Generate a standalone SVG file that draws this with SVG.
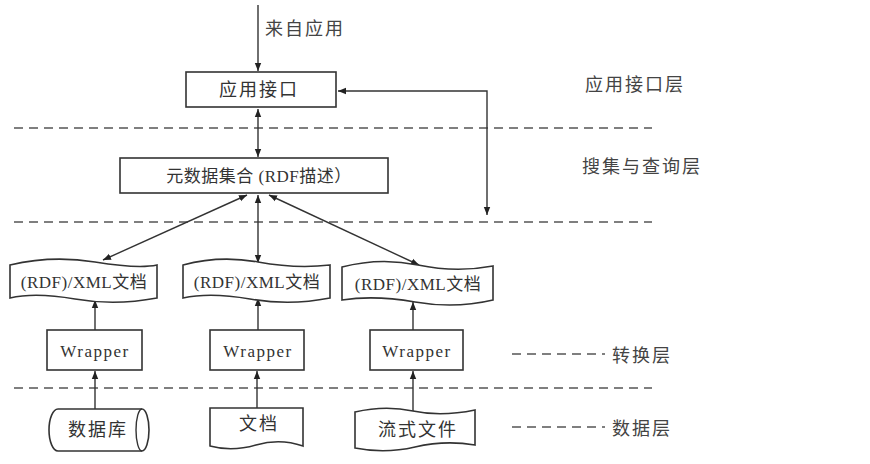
<svg xmlns="http://www.w3.org/2000/svg" width="870" height="464" viewBox="0 0 870 464">
<defs>
<marker id="ah" viewBox="0 0 10 10" refX="10" refY="5" markerWidth="8" markerHeight="8" markerUnits="userSpaceOnUse" orient="auto-start-reverse">
<path d="M0,1 L10,5 L0,9 Z" fill="#222"/>
</marker>
</defs>
<style>
.box{fill:#fff;stroke:#333;stroke-width:1.6}
.ln{stroke:#333;stroke-width:1.4;fill:none}
.dash{stroke:#555;stroke-width:1.3;stroke-dasharray:9,6;fill:none}
.t{font-family:"Liberation Serif","Noto Sans CJK SC",serif;font-size:17px;fill:#333;text-anchor:middle;dominant-baseline:central}
.c{font-size:18px;letter-spacing:2px}
.x{letter-spacing:0.5px}
.wr{font-size:17px;letter-spacing:1.5px}
.l{font-family:"Noto Sans CJK SC",sans-serif;font-size:18px;letter-spacing:2px;fill:#444;dominant-baseline:central}
</style>
<rect width="870" height="464" fill="#fff"/>
<g id="layers">
<line class="dash" x1="14" y1="128" x2="652" y2="128"/>
<line class="dash" x1="14" y1="222" x2="652" y2="222"/>
<line class="dash" x1="14" y1="388" x2="652" y2="388"/>
<line class="dash" x1="512" y1="354" x2="605" y2="354"/>
<line class="dash" x1="512" y1="427" x2="605" y2="427"/>
<text class="l" x="585" y="83">应用接口层</text>
<text class="l" x="582" y="165">搜集与查询层</text>
<text class="l" x="612" y="354">转换层</text>
<text class="l" x="612" y="427">数据层</text>
</g>
<g id="connectors">
<line class="ln" x1="258" y1="5" x2="258" y2="71" marker-end="url(#ah)"/>
<text class="l" x="265" y="27">来自应用</text>
<polyline class="ln" points="487,215 487,91 338,91" marker-start="url(#ah)" marker-end="url(#ah)"/>
<line class="ln" x1="258" y1="109" x2="258" y2="157" marker-start="url(#ah)" marker-end="url(#ah)"/>
<line class="ln" x1="247" y1="195" x2="103" y2="260" marker-start="url(#ah)" marker-end="url(#ah)"/>
<line class="ln" x1="258" y1="195" x2="258" y2="263" marker-start="url(#ah)" marker-end="url(#ah)"/>
<line class="ln" x1="269" y1="195" x2="419" y2="265" marker-start="url(#ah)" marker-end="url(#ah)"/>
<line class="ln" x1="95" y1="330" x2="95" y2="300" marker-end="url(#ah)"/>
<line class="ln" x1="258" y1="330" x2="258" y2="298" marker-end="url(#ah)"/>
<line class="ln" x1="413" y1="330" x2="413" y2="302" marker-end="url(#ah)"/>
<line class="ln" x1="95" y1="409" x2="95" y2="371" marker-end="url(#ah)"/>
<line class="ln" x1="257" y1="409" x2="257" y2="371" marker-end="url(#ah)"/>
<line class="ln" x1="413" y1="411" x2="413" y2="371" marker-end="url(#ah)"/>
</g>
<g id="app">
<rect class="box" x="186" y="72" width="150" height="35"/>
<text class="t c" x="259" y="90">应用接口</text>
</g>
<g id="meta">
<rect class="box" x="120" y="158" width="268" height="35"/>
<text class="t x" x="259" y="176">元数据集合 (RDF描述）</text>
</g>
<g id="xml1">
<path class="box" d="M10,265 Q52,255 95,262 T157,265 L157,298 Q115,306 75,299 T10,298 Z"/>
<text class="t x" x="84" y="282">(RDF)/XML文档</text>
</g>
<g id="xml2">
<path class="box" d="M183,265 Q220,255 258,262 T330,265 L330,298 Q290,306 250,299 T183,298 Z"/>
<text class="t x" x="257" y="282">(RDF)/XML文档</text>
</g>
<g id="xml3">
<path class="box" d="M342,267 Q380,257 418,265 T493,266 L493,300 Q455,309 415,302 T342,300 Z"/>
<text class="t x" x="418" y="284">(RDF)/XML文档</text>
</g>
<g id="w1">
<rect class="box" x="47" y="330" width="95" height="40"/>
<text class="t wr" x="95" y="351">Wrapper</text>
</g>
<g id="w2">
<rect class="box" x="210" y="330" width="94" height="40"/>
<text class="t wr" x="258" y="351">Wrapper</text>
</g>
<g id="w3">
<rect class="box" x="370" y="330" width="93" height="40"/>
<text class="t wr" x="417" y="351">Wrapper</text>
</g>
<g id="db">
<path class="box" d="M58,409 L142,409 A7,21 0 0 1 142,451 L58,451 A9,21 0 0 1 58,409 Z"/>
<path class="ln" d="M142,409 A6,21 0 0 0 142,451"/>
<text class="t c" x="98" y="430">数据库</text>
</g>
<g id="doc">
<path class="box" d="M210,408 L303,408 L303,446 Q280,438 256,445 T210,446 Z"/>
<text class="t c" x="259" y="424">文档</text>
</g>
<g id="stream">
<path class="box" d="M355,412 Q385,405 413,411 T475,410 L475,445 Q445,440 415,447 T355,448 Z"/>
<text class="t c" x="418" y="430">流式文件</text>
</g>
</svg>
